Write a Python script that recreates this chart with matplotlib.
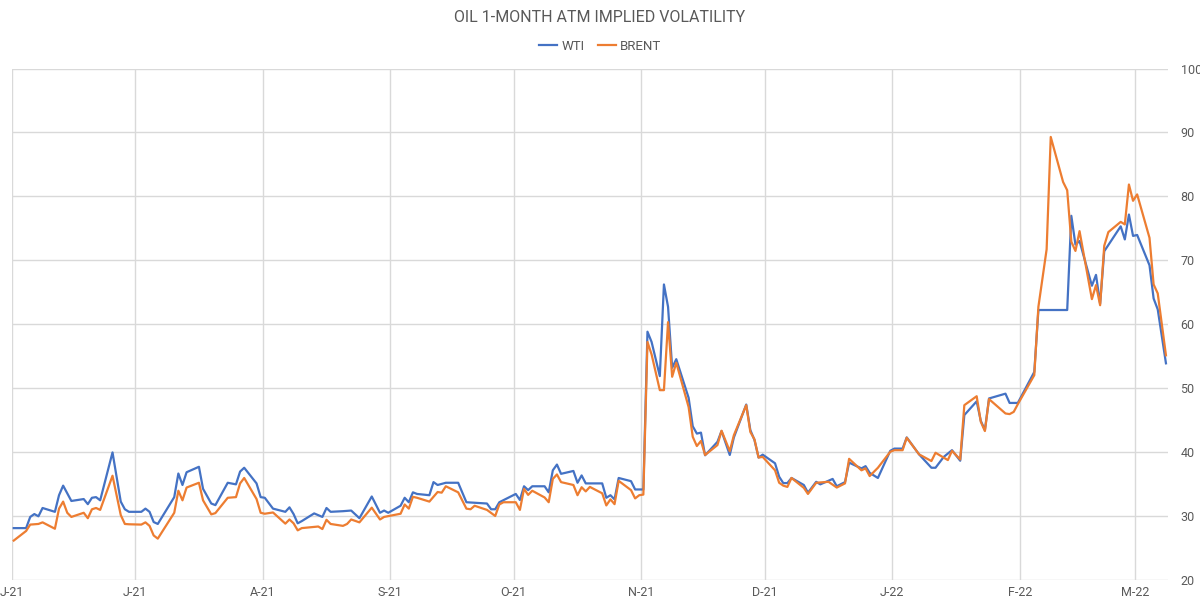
import matplotlib
matplotlib.use("Agg")
import matplotlib.pyplot as plt
import pandas as pd

# WTI 1-month ATM implied vol
wti_dates = [
    "2021-06-25", "2021-06-28", "2021-06-29", "2021-06-30", "2021-07-01", "2021-07-02",
    "2021-07-05", "2021-07-06", "2021-07-07", "2021-07-09", "2021-07-12", "2021-07-13",
    "2021-07-14", "2021-07-15", "2021-07-16", "2021-07-19", "2021-07-21", "2021-07-22",
    "2021-07-23", "2021-07-26", "2021-07-27", "2021-07-28", "2021-07-29", "2021-07-30",
    "2021-08-03", "2021-08-04", "2021-08-05", "2021-08-06", "2021-08-09", "2021-08-10",
    "2021-08-12", "2021-08-13", "2021-08-16", "2021-08-18", "2021-08-19", "2021-08-20",
    "2021-08-23", "2021-08-24", "2021-08-25", "2021-08-27", "2021-08-30", "2021-08-31",
    "2021-09-01", "2021-09-02", "2021-09-03", "2021-09-06", "2021-09-08", "2021-09-09",
    "2021-09-10", "2021-09-13", "2021-09-15", "2021-09-17", "2021-09-20", "2021-09-22",
    "2021-09-23", "2021-09-24", "2021-09-27", "2021-09-28", "2021-09-29", "2021-09-30",
    "2021-10-01", "2021-10-04", "2021-10-05", "2021-10-06", "2021-10-08", "2021-10-11",
    "2021-10-13", "2021-10-18", "2021-10-19", "2021-10-20", "2021-10-21", "2021-10-25",
    "2021-10-26", "2021-10-27", "2021-10-28", "2021-10-29", "2021-11-01", "2021-11-02",
    "2021-11-03", "2021-11-04", "2021-11-05", "2021-11-08", "2021-11-09", "2021-11-10",
    "2021-11-11", "2021-11-15", "2021-11-16", "2021-11-17", "2021-11-18", "2021-11-19",
    "2021-11-22", "2021-11-23", "2021-11-25", "2021-11-26", "2021-11-27", "2021-11-29",
    "2021-11-30", "2021-12-01", "2021-12-02", "2021-12-03", "2021-12-06", "2021-12-07",
    "2021-12-08", "2021-12-09", "2021-12-10", "2021-12-13", "2021-12-14", "2021-12-16",
    "2021-12-17", "2021-12-20", "2021-12-21", "2021-12-22", "2021-12-23", "2021-12-24",
    "2021-12-27", "2021-12-28", "2021-12-29", "2021-12-30", "2021-12-31", "2022-01-03",
    "2022-01-04", "2022-01-06", "2022-01-07", "2022-01-10", "2022-01-11", "2022-01-13",
    "2022-01-14", "2022-01-17", "2022-01-18", "2022-01-19", "2022-01-21", "2022-01-24",
    "2022-01-25", "2022-01-27", "2022-01-28", "2022-01-31", "2022-02-02", "2022-02-03",
    "2022-02-04", "2022-02-06", "2022-02-08", "2022-02-10", "2022-02-11", "2022-02-14",
    "2022-02-15", "2022-02-16", "2022-02-17", "2022-02-21", "2022-02-22", "2022-02-24",
    "2022-02-28", "2022-03-01", "2022-03-08", "2022-03-09", "2022-03-10", "2022-03-11",
    "2022-03-14", "2022-03-15", "2022-03-16", "2022-03-17", "2022-03-21", "2022-03-22",
    "2022-03-23", "2022-03-24", "2022-03-25", "2022-03-28", "2022-03-29", "2022-03-30",
    "2022-04-01",
]
wti_vol = [
    28.05, 28.05, 29.8, 30.25, 29.9, 31.2,
    30.6, 33.2, 34.7, 32.3, 32.6, 31.8,
    32.8, 32.9, 32.4, 39.9, 32.2, 31.0,
    30.6, 30.6, 31.1, 30.6, 29.0, 28.7,
    32.9, 36.6, 34.8, 36.8, 37.65, 34.2,
    31.9, 31.65, 35.15, 34.9, 36.9, 37.5,
    35.05, 32.9, 32.8, 31.1, 30.6, 31.3,
    30.25, 28.8, 29.15, 30.35, 29.8, 31.2,
    30.6, 30.7, 30.8, 29.6, 33.0, 30.45,
    30.8, 30.45, 31.55, 32.8, 32.1, 33.65,
    33.4, 33.2, 35.25, 34.8, 35.15, 35.15,
    32.1, 31.9, 31.0, 31.0, 32.1, 33.4,
    32.45, 34.6, 34.0, 34.6, 34.6, 33.65,
    37.1, 38.0, 36.55, 37.0, 35.15, 36.3,
    35.05, 35.05, 32.8, 33.2, 32.55, 35.9,
    35.4, 34.1, 34.1, 58.8, 57.2, 51.85,
    66.2, 62.7, 53.15, 54.5, 48.45, 44.0,
    42.85, 43.0, 39.45, 41.55, 43.25, 39.5,
    42.25, 47.4, 43.4, 41.85, 39.1, 39.55,
    38.2, 36.1, 35.1, 35.1, 35.9, 34.8,
    33.6, 35.3, 34.9, 35.75, 34.6, 35.25,
    38.3, 37.4, 37.75, 36.7, 35.9, 40.15,
    40.5, 40.5, 42.25, 39.6, 38.2, 37.5,
    37.5, 39.2, 40.25, 38.6, 45.75, 47.9,
    44.85, 43.4, 48.35, 49.1, 47.65, 47.65,
    52.5, 62.2, 62.2, 76.95, 72.45, 73.0,
    66.0, 67.7, 63.2, 71.4, 75.3, 73.25,
    77.15, 73.8, 73.95, 69.2, 64.0, 62.3,
    53.85,
]

# Brent 1-month ATM implied vol
brent_dates = [
    "2021-06-25", "2021-06-28", "2021-06-29", "2021-07-01", "2021-07-02", "2021-07-05",
    "2021-07-06", "2021-07-07", "2021-07-08", "2021-07-09", "2021-07-12", "2021-07-13",
    "2021-07-14", "2021-07-15", "2021-07-16", "2021-07-19", "2021-07-21", "2021-07-22",
    "2021-07-23", "2021-07-26", "2021-07-27", "2021-07-28", "2021-07-29", "2021-07-30",
    "2021-08-03", "2021-08-04", "2021-08-05", "2021-08-06", "2021-08-09", "2021-08-10",
    "2021-08-12", "2021-08-13", "2021-08-16", "2021-08-18", "2021-08-19", "2021-08-20",
    "2021-08-23", "2021-08-24", "2021-08-25", "2021-08-27", "2021-08-30", "2021-08-31",
    "2021-09-01", "2021-09-02", "2021-09-03", "2021-09-07", "2021-09-08", "2021-09-09",
    "2021-09-10", "2021-09-13", "2021-09-14", "2021-09-15", "2021-09-17", "2021-09-20",
    "2021-09-22", "2021-09-23", "2021-09-27", "2021-09-28", "2021-09-29", "2021-09-30",
    "2021-10-01", "2021-10-04", "2021-10-06", "2021-10-07", "2021-10-08", "2021-10-11",
    "2021-10-13", "2021-10-14", "2021-10-15", "2021-10-18", "2021-10-20", "2021-10-21",
    "2021-10-22", "2021-10-25", "2021-10-26", "2021-10-27", "2021-10-28", "2021-10-29",
    "2021-11-01", "2021-11-02", "2021-11-03", "2021-11-04", "2021-11-05", "2021-11-08",
    "2021-11-09", "2021-11-10", "2021-11-11", "2021-11-12", "2021-11-15", "2021-11-16",
    "2021-11-17", "2021-11-18", "2021-11-19", "2021-11-22", "2021-11-23", "2021-11-24",
    "2021-11-25", "2021-11-26", "2021-11-27", "2021-11-29", "2021-11-30", "2021-12-01",
    "2021-12-02", "2021-12-03", "2021-12-06", "2021-12-07", "2021-12-08", "2021-12-09",
    "2021-12-10", "2021-12-13", "2021-12-14", "2021-12-16", "2021-12-17", "2021-12-20",
    "2021-12-21", "2021-12-22", "2021-12-23", "2021-12-24", "2021-12-27", "2021-12-28",
    "2021-12-29", "2021-12-30", "2021-12-31", "2022-01-03", "2022-01-04", "2022-01-06",
    "2022-01-09", "2022-01-11", "2022-01-13", "2022-01-14", "2022-01-17", "2022-01-18",
    "2022-01-19", "2022-01-21", "2022-01-24", "2022-01-25", "2022-01-27", "2022-01-28",
    "2022-01-31", "2022-02-03", "2022-02-04", "2022-02-07", "2022-02-08", "2022-02-10",
    "2022-02-11", "2022-02-14", "2022-02-15", "2022-02-16", "2022-02-17", "2022-02-21",
    "2022-02-22", "2022-02-23", "2022-02-24", "2022-02-28", "2022-03-01", "2022-03-03",
    "2022-03-04", "2022-03-07", "2022-03-08", "2022-03-09", "2022-03-10", "2022-03-11",
    "2022-03-14", "2022-03-15", "2022-03-16", "2022-03-17", "2022-03-18", "2022-03-21",
    "2022-03-22", "2022-03-23", "2022-03-24", "2022-03-25", "2022-03-28", "2022-03-29",
    "2022-03-30", "2022-04-01",
]
brent_vol = [
    26.1, 27.6, 28.6, 28.7, 28.95, 27.95,
    31.1, 32.2, 30.45, 29.8, 30.45, 29.6,
    31.0, 31.2, 30.9, 36.25, 30.1, 28.7,
    28.65, 28.6, 28.95, 28.4, 26.9, 26.4,
    30.45, 33.9, 32.4, 34.4, 35.15, 32.4,
    30.2, 30.4, 32.8, 32.9, 35.05, 35.9,
    32.6, 30.45, 30.3, 30.5, 28.75, 29.4,
    28.8, 27.7, 28.05, 28.3, 27.9, 29.35,
    28.7, 28.4, 28.7, 29.4, 28.95, 31.25,
    29.4, 29.8, 30.3, 31.75, 31.1, 32.95,
    32.8, 32.2, 33.7, 33.6, 34.6, 33.65,
    31.1, 31.0, 31.55, 30.9, 29.95, 31.75,
    32.1, 32.1, 30.9, 34.2, 33.25, 33.9,
    32.85, 32.1, 35.75, 36.45, 35.25, 34.8,
    33.2, 34.45, 33.8, 34.5, 33.5, 31.6,
    32.55, 31.8, 35.45, 34.0, 32.7, 33.2,
    33.3, 57.2, 55.25, 49.65, 49.65, 60.3,
    51.75, 53.95, 47.0, 42.35, 40.9, 41.7,
    39.5, 41.05, 43.3, 40.1, 42.6, 47.3,
    43.1, 41.95, 39.1, 39.2, 37.1, 35.15,
    34.7, 34.5, 35.9, 34.35, 33.4, 35.15,
    35.3, 34.4, 35.05, 38.9, 37.1, 37.4,
    36.2, 37.5, 40.0, 40.25, 40.25, 42.2,
    39.6, 38.55, 39.85, 38.7, 40.15, 38.8,
    47.3, 48.7, 44.7, 43.25, 48.25, 46.0,
    45.9, 46.25, 47.45, 52.0, 62.7, 71.7,
    89.3, 82.25, 80.95, 72.9, 71.45, 74.55,
    63.9, 66.1, 62.95, 72.25, 74.4, 76.0,
    75.6, 81.85, 79.3, 80.3, 73.5, 66.2,
    64.8, 55.1,
]

tick_dates = ["2021-06-25", "2021-07-25", "2021-08-25", "2021-09-25", "2021-10-25",
              "2021-11-25", "2021-12-25", "2022-01-25", "2022-02-25", "2022-03-25"]
tick_labels = ["J-21", "J-21", "A-21", "S-21", "O-21", "N-21", "D-21", "J-22", "F-22", "M-22"]
y_ticks = [20, 30, 40, 50, 60, 70, 80, 90, 100]

TEXT = "#595959"
GRID = "#D9D9D9"
plt.rcParams['font.family'] = ['Roboto', 'DejaVu Sans']

# points sit in the middle of their day, like the spreadsheet date axis
half_day = pd.Timedelta(hours=12)
wti_x = pd.to_datetime(wti_dates) + half_day
brent_x = pd.to_datetime(brent_dates) + half_day

fig = plt.figure(figsize=(12, 6.06), dpi=100)
ax = fig.add_axes([0.00975, 0.0437, 0.9636, 0.8431])

ax.plot(wti_x, wti_vol, color="#4472C4", lw=1.6, label="WTI", solid_joinstyle="round")
ax.plot(brent_x, brent_vol, color="#ED7D31", lw=1.6, label="BRENT", solid_joinstyle="round")

ax.set_xlim(pd.Timestamp("2021-06-25"), pd.Timestamp("2022-04-02"))
ax.set_ylim(20, 100)
ax.set_xticks(pd.to_datetime(tick_dates))
ax.set_xticklabels(tick_labels)
ax.set_yticks(y_ticks)
ax.yaxis.tick_right()

ax.grid(True, color=GRID, lw=1)
ax.set_axisbelow(True)
for s in ax.spines.values():
    s.set_visible(False)
ax.tick_params(axis="both", length=0, labelsize=9, colors=TEXT)
ax.tick_params(axis="x", pad=5)
ax.tick_params(axis="y", pad=9)

fig.text(0.5, 1 - 18 / 606, "OIL 1-MONTH ATM IMPLIED VOLATILITY", ha="center", va="center",
         fontsize=11.5, color=TEXT)
fig.legend(loc="center", bbox_to_anchor=(0.5, 1 - 46 / 606), ncol=2, frameon=False,
           fontsize=9.5, handlelength=1.4, handletextpad=0.3, columnspacing=1.0,
           labelcolor=TEXT)

fig.savefig("out.png", dpi=100)
